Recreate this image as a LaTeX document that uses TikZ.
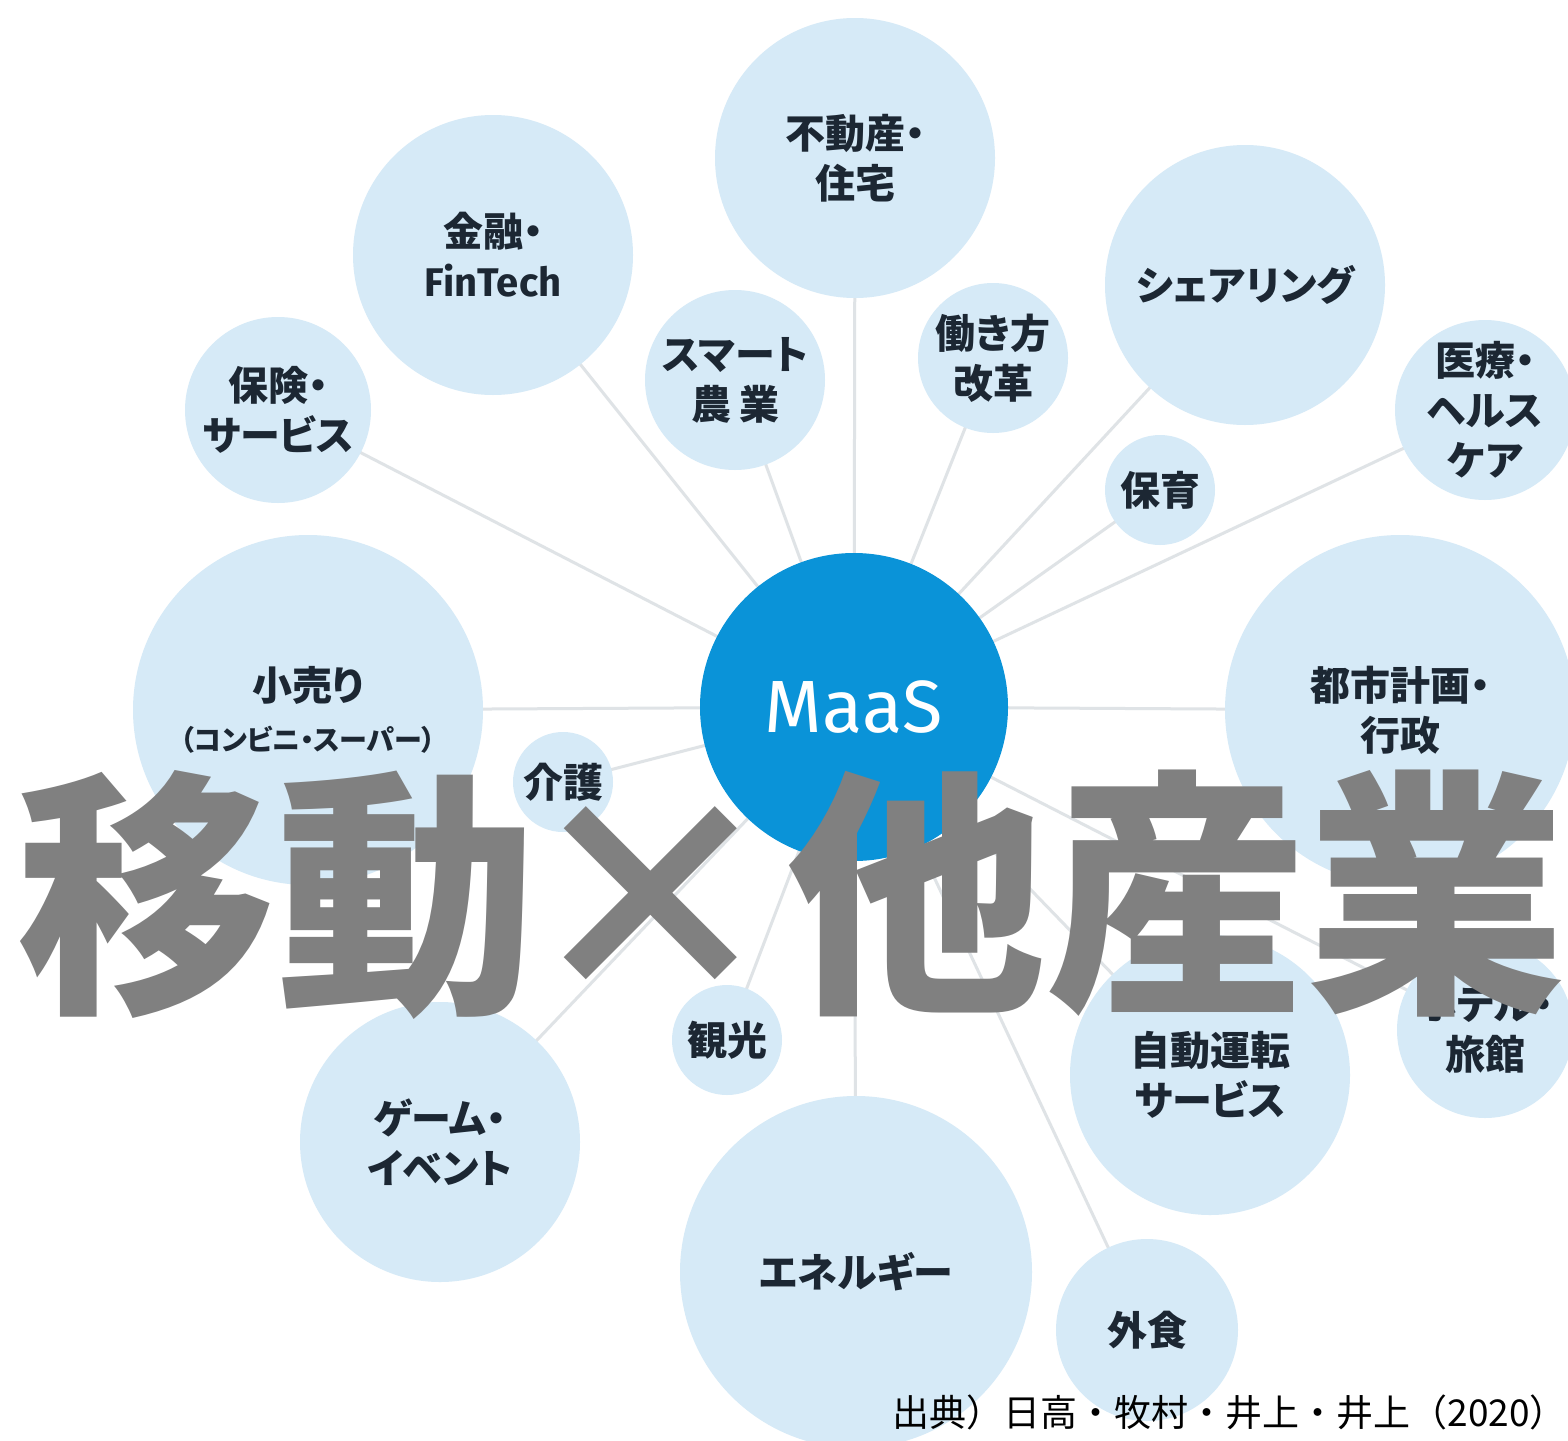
\documentclass[tikz,border=0pt]{standalone}
\usepackage{fontspec}
\newfontfamily\jp{Noto Sans CJK JP}
\newfontfamily\jpp{Noto Sans CJK JP}[RawFeature=+palt]
\newfontfamily\lat{Fira Sans}
\usetikzlibrary{backgrounds}
\definecolor{bub}{HTML}{D6EAF7}
\definecolor{maasc}{HTML}{0A93D8}
\definecolor{ink}{HTML}{1C2733}
\definecolor{linec}{HTML}{DFE3E6}
\definecolor{overlay}{HTML}{808080}
\begin{document}
\begin{tikzpicture}[x=1pt,y=-1pt,
  bubble/.style={circle, fill=bub, inner sep=0pt, align=center, text=ink,
    font=\jpp\bfseries\fontsize{40}{50}\selectfont},
  conn/.style={draw=linec, line width=3pt},
  bigtext/.style={inner sep=0pt, text=overlay, font=\jp\bfseries\fontsize{260}{260}\selectfont}]
\useasboundingbox (0,0) rectangle (1568,1440);
% bubbles
\node[bubble, minimum size=280pt] (fudosan) at (855,158) {不動産・\\住宅};
\node[bubble, minimum size=280pt] (kinyu) at (493,255) {金融・\\{\lat\bfseries FinTech}};
\node[bubble, minimum size=280pt] (share) at (1245,285) {シェアリング};
\node[bubble, minimum size=186pt] (hoken) at (278,410) {保険・\\サービス};
\node[bubble, minimum size=180pt] (smart) at (735,380) {スマート\\農\hspace{8pt}業};
\node[bubble, minimum size=150pt] (hataraki) at (993,358) {働き方\\改革};
\node[bubble, minimum size=110pt] (hoiku) at (1160,490) {保育};
\node[bubble, minimum size=180pt] (iryo) at (1485,410) {医療・\\ヘルス\\ケア};
\node[bubble, minimum size=350pt] (kouri) at (308,710) {小売り\\{\fontsize{28}{34}\selectfont （コンビニ・スーパー）}};
\node[bubble, minimum size=100pt] (kaigo) at (563,782) {介護};
\node[bubble, minimum size=350pt] (toshi) at (1400,710) {都市計画・\\行政};
\node[bubble, minimum size=176pt] (hotel) at (1485,1030) {ホテル・\\旅館};
\node[bubble, minimum size=280pt] (jido) at (1210,1075) {自動運転\\サービス};
\node[bubble, minimum size=110pt] (kanko) at (727,1040) {観光};
\node[bubble, minimum size=280pt] (game) at (440,1142) {ゲーム・\\イベント};
\node[bubble, minimum size=352pt] (energy) at (856,1272) {エネルギー};
\node[bubble, minimum size=182pt] (gaishoku) at (1147,1330) {外食};
% centre
\node[circle, fill=maasc, inner sep=0pt, minimum size=308pt, text=white,
  font=\lat\fontsize{74}{74}\selectfont] (maas) at (854,707) {MaaS};
% connectors behind
\begin{pgfonlayer}{background}
\fill[white] (0,0) rectangle (1568,1440);
\foreach \n in {fudosan,kinyu,share,hoken,smart,hataraki,hoiku,iryo,kouri,kaigo,toshi,hotel,jido,kanko,game,energy,gaishoku}
  \draw[conn] (maas.center) -- (\n.center);
\end{pgfonlayer}
% overlay title
\node[bigtext, anchor=base west] (t1) at (16,992) {移動};
\node[bigtext, anchor=base] (t2) at (650,992) {×};
\node[bigtext, anchor=base west] (t3) at (786,992) {他産業};
% source
\node[anchor=base east, inner sep=0pt, text=black, font=\jp\fontsize{37}{37}\selectfont] (src) at (1567,1426) {出典）日高・牧村・井上・井上（2020）};
\end{tikzpicture}
\end{document}
